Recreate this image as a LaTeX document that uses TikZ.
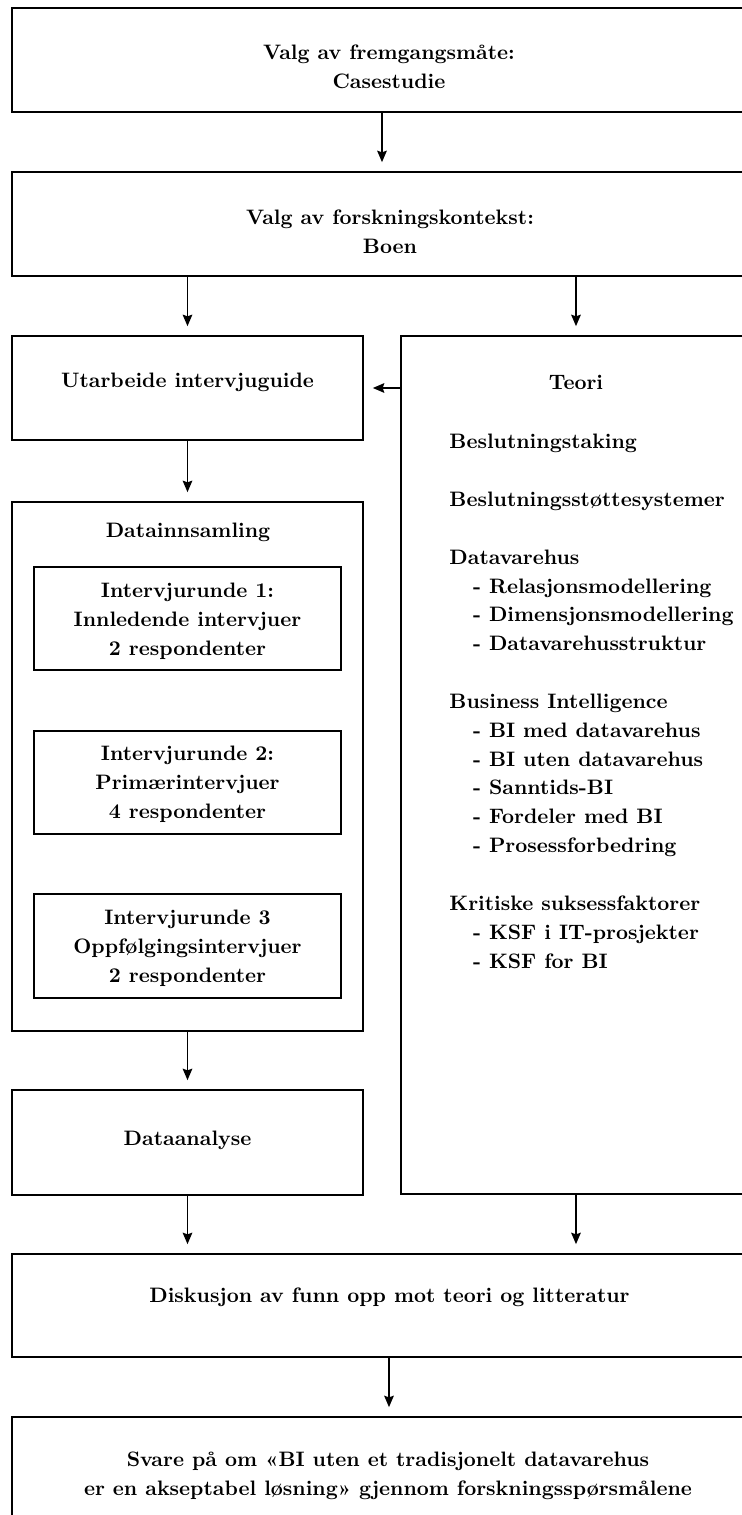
\documentclass[tikz,border=0pt]{standalone}
\usetikzlibrary{arrows.meta,fit}
\begin{document}
\begin{tikzpicture}[x=0.4785pt,y=-0.4785pt,
  box/.style={draw, line width=0.8pt, inner sep=0pt},
  txt/.style={font=\bfseries\fontsize{10}{13.8}\selectfont, inner sep=0pt, align=center},
  flow/.style={line width=0.8pt, -{Stealth[length=5.5pt,width=4.6pt,inset=0.8pt]}, shorten >=4.3pt}]

% canvas
\useasboundingbox (0,0) rectangle (742,1515);
\fill[white] (0,0) rectangle (742,1515);
\clip (0,0) rectangle (742,1515);

% boxes
\node[box, fit={(12,8) (766,112)}]      (method)   {};
\node[box, fit={(12,172) (766,276)}]    (context)  {};
\node[box, fit={(12,336) (363,440)}]    (guide)    {};
\node[box, fit={(401,336) (751,1194)}]  (theory)   {};
\node[box, fit={(12,502) (363,1031)}]   (collect)  {};
\node[box, fit={(34,567) (341,670)}]    (round1)   {};
\node[box, fit={(34,731) (341,834)}]    (round2)   {};
\node[box, fit={(34,894) (341,998)}]    (round3)   {};
\node[box, fit={(12,1090) (363,1195)}]  (analysis) {};
\node[box, fit={(12,1254) (766,1357)}]  (discuss)  {};
\node[box, fit={(12,1417) (766,1570)}]  (answer)   {};

% texts
\node[txt] (method-t)   at (389,67)    {Valg av fremgangsmåte:\\Casestudie};
\node[txt] (context-t)  at (390,232)   {Valg av forskningskontekst:\\Boen};
\node[txt] (guide-t)    at (187.5,382) {Utarbeide intervjuguide};
\node[txt] (theory-t)   at (576,382)   {Teori};
\node[txt] (collect-t)  at (188,532)   {Datainnsamling};
\node[txt] (round1-t)   at (187.5,621) {Intervjurunde 1:\\Innledende intervjuer\\2 respondenter};
\node[txt] (round2-t)   at (187.5,784) {Intervjurunde 2:\\Primærintervjuer\\4 respondenter};
\node[txt] (round3-t)   at (187.5,948) {Intervjurunde 3\\Oppfølgingsintervjuer\\2 respondenter};
\node[txt] (analysis-t) at (187.5,1140) {Dataanalyse};
\node[txt] (discuss-t)  at (389.5,1297) {Diskusjon av funn opp mot teori og litteratur};
\node[txt] (answer-t)   at (388,1476)  {Svare på om «BI uten et tradisjonelt datavarehus\\er en akseptabel løsning» gjennom forskningsspørsmålene};

% theory topics
\node[txt, align=left, anchor=north west] (topics) at (449,428.3) {%
\strut Beslutningstaking\\[13.8pt]
Beslutningsstøttesystemer\\[13.8pt]
Datavarehus\\
\hspace*{11.3pt}- Relasjonsmodellering\\
\hspace*{11.3pt}- Dimensjonsmodellering\\
\hspace*{11.3pt}- Datavarehusstruktur\\[13.8pt]
Business Intelligence\\
\hspace*{11.3pt}- BI med datavarehus\\
\hspace*{11.3pt}- BI uten datavarehus\\
\hspace*{11.3pt}- Sanntids-BI\\
\hspace*{11.3pt}- Fordeler med BI\\
\hspace*{11.3pt}- Prosessforbedring\\[13.8pt]
Kritiske suksessfaktorer\\
\hspace*{11.3pt}- KSF i IT-prosjekter\\
\hspace*{11.3pt}- KSF for BI};

% connectors
\coordinate (colA) at (382,0);
\coordinate (colB) at (389,0);
\draw[flow] (colA |- method.south) -- (colA |- context.north);
\draw[flow] (context.south -| guide.north) -- (guide.north);
\draw[flow] (context.south -| theory.north) -- (theory.north);
\draw[flow] (theory.west |- guide.east) -- (guide.east);
\draw[flow] (guide.south) -- (collect.north);
\draw[flow] (collect.south) -- (analysis.north);
\draw[flow] (analysis.south) -- (discuss.north -| analysis.south);
\draw[flow] (theory.south) -- (discuss.north -| theory.south);
\draw[flow] (colB |- discuss.south) -- (colB |- answer.north);
\end{tikzpicture}
\end{document}
